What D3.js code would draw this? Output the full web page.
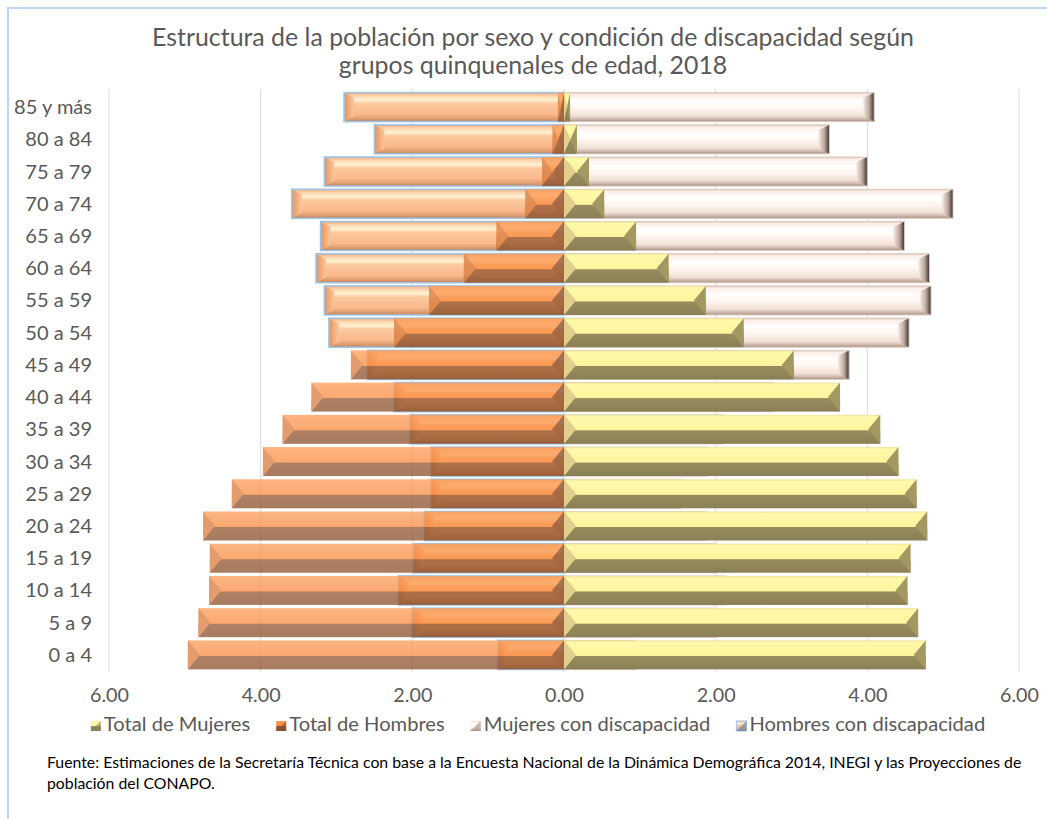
<!DOCTYPE html>
<html>
<head>
<meta charset="utf-8">
<script src="https://cdn.jsdelivr.net/npm/d3@7"></script>
<style>
  body { margin: 0; background: #fff; }
  svg { display: block; font-family: Lato, "Open Sans", sans-serif; }
</style>
</head>
<body>
<div id="grafica"></div>
<script>
// grupos de edad, de abajo hacia arriba
const edades = ["0 a 4", "5 a 9", "10 a 14", "15 a 19", "20 a 24", "25 a 29", "30 a 34",
  "35 a 39", "40 a 44", "45 a 49", "50 a 54", "55 a 59", "60 a 64", "65 a 69",
  "70 a 74", "75 a 79", "80 a 84", "85 y más"];

// porcentajes
const totalMujeres = [4.77, 4.67, 4.53, 4.57, 4.79, 4.65, 4.41, 4.17, 3.64, 3.03, 2.37, 1.87, 1.38, 0.95, 0.53, 0.33, 0.17, 0.08];
const totalHombres = [4.96, 4.82, 4.68, 4.67, 4.76, 4.38, 3.97, 3.71, 3.33, 2.81, 2.24, 1.78, 1.32, 0.89, 0.51, 0.29, 0.15, 0.08];
const mujeresDisc  = [0.95, 1.98, 2.13, 2.01, 1.87, 1.54, 1.90, 2.09, 2.76, 3.76, 4.55, 4.84, 4.82, 4.49, 5.13, 4.00, 3.50, 4.09];
const hombresDisc  = [0.87, 2.00, 2.18, 1.98, 1.84, 1.75, 1.75, 2.03, 2.24, 2.59, 3.10, 3.16, 3.27, 3.21, 3.59, 3.16, 2.50, 2.90];

const ticksX = [-6, -4, -2, 0, 2, 4, 6];
const series = ["Total de Mujeres", "Total de Hombres", "Mujeres con discapacidad", "Hombres con discapacidad"];

const titulo = ["Estructura de la población por sexo y condición de discapacidad según",
  "grupos quinquenales de edad, 2018"];
const fuente = ["Fuente: Estimaciones de la Secretaría Técnica con base a la Encuesta Nacional de la Dinámica Demográfica 2014, INEGI y las Proyecciones de",
  "población del CONAPO."];

const W = 1047, H = 819;
const margin = { top: 91, left: 109, right: 28, bottom: 148 };

const svg = d3.select('#grafica')
  .append('svg')
  .attr('width', W)
  .attr('height', H);

const defs = svg.append('defs');

function gradiente(id, stops, horizontal) {
  const g = defs.append('linearGradient').attr('id', id)
    .attr('x1', 0).attr('y1', 0)
    .attr('x2', horizontal ? 1 : 0).attr('y2', horizontal ? 0 : 1);
  stops.forEach(s => g.append('stop').attr('offset', s[0]).attr('stop-color', s[1]));
}

gradiente('gMuj', [[0, '#efe299'], [0.07, '#fff9aa'], [0.52, '#fff59f'], [0.55, '#978c5d'], [1, '#8b8056']]);
gradiente('gHom', [[0, '#fb9c58'], [0.52, '#fb8b3e'], [0.55, '#93552e'], [1, '#8a4f2a']]);
gradiente('gMujD', [[0, '#d9c5b8'], [0.07, '#fbeee6'], [0.3, '#ffffff'], [0.55, '#fef5ef'], [0.8, '#f1e0d5'], [0.92, '#cdb6a8'], [1, '#a08b7f']]);
gradiente('gHomD', [[0, '#f2ab78'], [0.12, '#fcd6b0'], [0.26, '#fff2d2'], [0.38, '#fcc99f'], [0.75, '#f9b98b'], [0.92, '#dc9a6c'], [1, '#b57a52']]);
gradiente('gMujDfin', [[0, '#f8ebe3'], [0.55, '#b9a79c'], [1, '#3a2f2a']], true);
gradiente('gHomDfin', [[0, '#e8925b'], [1, '#fbc79c']], true);

// escalas
const x = d3.scaleLinear()
  .domain([-6, 6])
  .range([margin.left, W - margin.right]);

const y = d3.scaleBand()
  .domain(edades.slice().reverse())
  .range([margin.top, H - margin.bottom])
  .paddingInner(0.1)
  .paddingOuter(0.05);

const h = y.bandwidth();

// borde del area del grafico
svg.append('rect')
  .attr('x', 8).attr('y', 8)
  .attr('width', W + 20).attr('height', H + 20)
  .attr('fill', 'none')
  .attr('stroke', '#bdd7ee')
  .attr('stroke-width', 2);

// lineas de cuadricula
svg.append('g')
  .selectAll('line')
  .data(ticksX)
  .join('line')
  .attr('x1', d => x(d)).attr('x2', d => x(d))
  .attr('y1', margin.top - 2).attr('y2', H - margin.bottom + 1)
  .attr('stroke', '#d9d9d9')
  .attr('stroke-width', 1);

function filas(valores, lado) {
  return edades.map((e, i) => ({ e: e, v: valores[i] * lado }));
}

// barra con relieve: rect con gradiente + triangulos en los extremos
function barras(valores, lado, estilo) {
  const g = svg.append('g').attr('opacity', estilo.opacidad || 1);
  const datos = filas(valores, lado);

  g.selectAll('rect')
    .data(datos)
    .join('rect')
    .attr('x', d => Math.min(x(0), x(d.v)))
    .attr('y', d => y(d.e))
    .attr('width', d => Math.abs(x(d.v) - x(0)))
    .attr('height', h)
    .attr('fill', `url(#${estilo.grad})`);

  if (estilo.interior) {
    g.selectAll('path.int')
      .data(datos)
      .join('path')
      .attr('class', 'int')
      .attr('fill', estilo.interior)
      .attr('d', d => {
        const x0 = x(0), x1 = x(d.v), t = y(d.e);
        const b = Math.min(estilo.b, Math.abs(x1 - x0) / 2) * Math.sign(x1 - x0);
        return `M${x0},${t}L${x0 + b},${t + h * estilo.pico}L${x0 + b},${t + h * (1 - estilo.pico)}L${x0},${t + h}Z`;
      });
  }

  if (estilo.exterior) {
    g.selectAll('path.ext')
      .data(datos)
      .join('path')
      .attr('class', 'ext')
      .attr('fill', estilo.exterior)
      .attr('d', d => {
        const x0 = x(0), x1 = x(d.v), t = y(d.e);
        const b = Math.min(estilo.b, Math.abs(x1 - x0) / 2) * Math.sign(x1 - x0);
        return `M${x1},${t}L${x1 - b},${t + h * estilo.pico}L${x1 - b},${t + h * (1 - estilo.pico)}L${x1},${t + h}Z`;
      });
  }

  if (estilo.borde) {
    g.selectAll('rect.borde')
      .data(datos)
      .join('rect')
      .attr('class', 'borde')
      .attr('x', d => Math.min(x(0), x(d.v)))
      .attr('y', d => y(d.e))
      .attr('width', d => Math.abs(x(d.v) - x(0)))
      .attr('height', h)
      .attr('fill', 'none')
      .attr('stroke', estilo.borde)
      .attr('stroke-width', estilo.grosor || 1);
  }
}

// primero las de discapacidad, encima los totales
barras(mujeresDisc, 1, { grad: 'gMujD', exterior: 'url(#gMujDfin)', b: 11, pico: 0.18, borde: '#dccabf' });
barras(hombresDisc, -1, { grad: 'gHomD', exterior: 'url(#gHomDfin)', b: 10, pico: 0.18, borde: '#9dc3e6', grosor: 1.6 });
barras(totalMujeres, 1, { grad: 'gMuj', interior: '#e2cf8e', exterior: '#a39862', b: 12, pico: 0.5 });
barras(totalHombres, -1, { grad: 'gHom', interior: '#8a4a26', exterior: '#d97a3c', b: 12, pico: 0.5, opacidad: 0.74 });

function ajustar(sel, ancho) {
  const w = sel.node().getComputedTextLength();
  const fs = parseFloat(sel.attr('font-size'));
  return fs * ancho / w;
}

// eje x
const ejeX = svg.append('g')
  .attr('transform', `translate(0, ${H - margin.bottom})`)
  .call(d3.axisBottom(x).tickValues(ticksX).tickFormat(d => Math.abs(d).toFixed(2)).tickSize(0));
ejeX.select('.domain').remove();
ejeX.selectAll('text')
  .attr('fill', '#595959')
  .attr('font-family', 'Lato, "Open Sans", sans-serif')
  .attr('font-size', 20)
  .attr('dy', null)
  .attr('y', 31);
const fsX = ajustar(ejeX.select('text'), 39);
ejeX.selectAll('text').attr('font-size', fsX);

// eje y
const ejeY = svg.append('g')
  .selectAll('text')
  .data(edades)
  .join('text')
  .attr('x', 92)
  .attr('y', d => y(d) + h / 2)
  .attr('dy', '0.35em')
  .attr('text-anchor', 'end')
  .attr('fill', '#595959')
  .attr('font-size', 19)
  .text(d => d);
const fsY = ajustar(ejeY.filter(d => d === "85 y más"), 78);
ejeY.attr('font-size', fsY);

// titulo
const tit = svg.append('g')
  .selectAll('text')
  .data(titulo)
  .join('text')
  .attr('x', 533)
  .attr('y', (d, i) => 46 + i * 28)
  .attr('text-anchor', 'middle')
  .attr('fill', '#595959')
  .attr('font-size', 22)
  .text(d => d);
const fsT = ajustar(tit.filter((d, i) => i === 0), 762);
tit.attr('font-size', fsT);

// leyenda
const ley = svg.append('g');
const items = ley.selectAll('g')
  .data(series)
  .join('g');
const grads = ['gMuj', 'gHom', 'gMujD', 'gHomD'];
const triang = ['#8b8056', '#8a4f2a', '#a08b7f', '#5a7fa8'];
items.append('rect')
  .attr('width', 10).attr('height', 10)
  .attr('y', -10)
  .attr('fill', (d, i) => `url(#${grads[i]})`)
  .attr('stroke', (d, i) => i === 3 ? '#9dc3e6' : 'none');
items.append('path')
  .attr('d', 'M10,-10L10,0L0,0Z')
  .attr('fill', (d, i) => triang[i])
  .attr('opacity', 0.6);
const textosLey = items.append('text')
  .attr('x', 13)
  .attr('fill', '#595959')
  .attr('font-size', 19)
  .text(d => d);
const fsL = ajustar(textosLey.filter((d, i) => i === 3), 236);
textosLey.attr('font-size', fsL);

let pos = 0;
const anchos = [];
textosLey.each(function () { anchos.push(13 + this.getComputedTextLength()); });
const sep = 26;
const total = d3.sum(anchos) + sep * (anchos.length - 1);
let inicio = 538 - total / 2;
items.attr('transform', (d, i) => {
  const tx = inicio + d3.sum(anchos.slice(0, i)) + sep * i;
  return `translate(${tx}, 731)`;
});

// fuente
const fue = svg.append('g')
  .selectAll('text')
  .data(fuente)
  .join('text')
  .attr('x', 47)
  .attr('y', (d, i) => 768 + i * 21)
  .attr('fill', '#000')
  .attr('font-size', 14)
  .text(d => d);
const fsF = ajustar(fue.filter((d, i) => i === 0), 975);
fue.attr('font-size', fsF);
</script>
</body>
</html>
